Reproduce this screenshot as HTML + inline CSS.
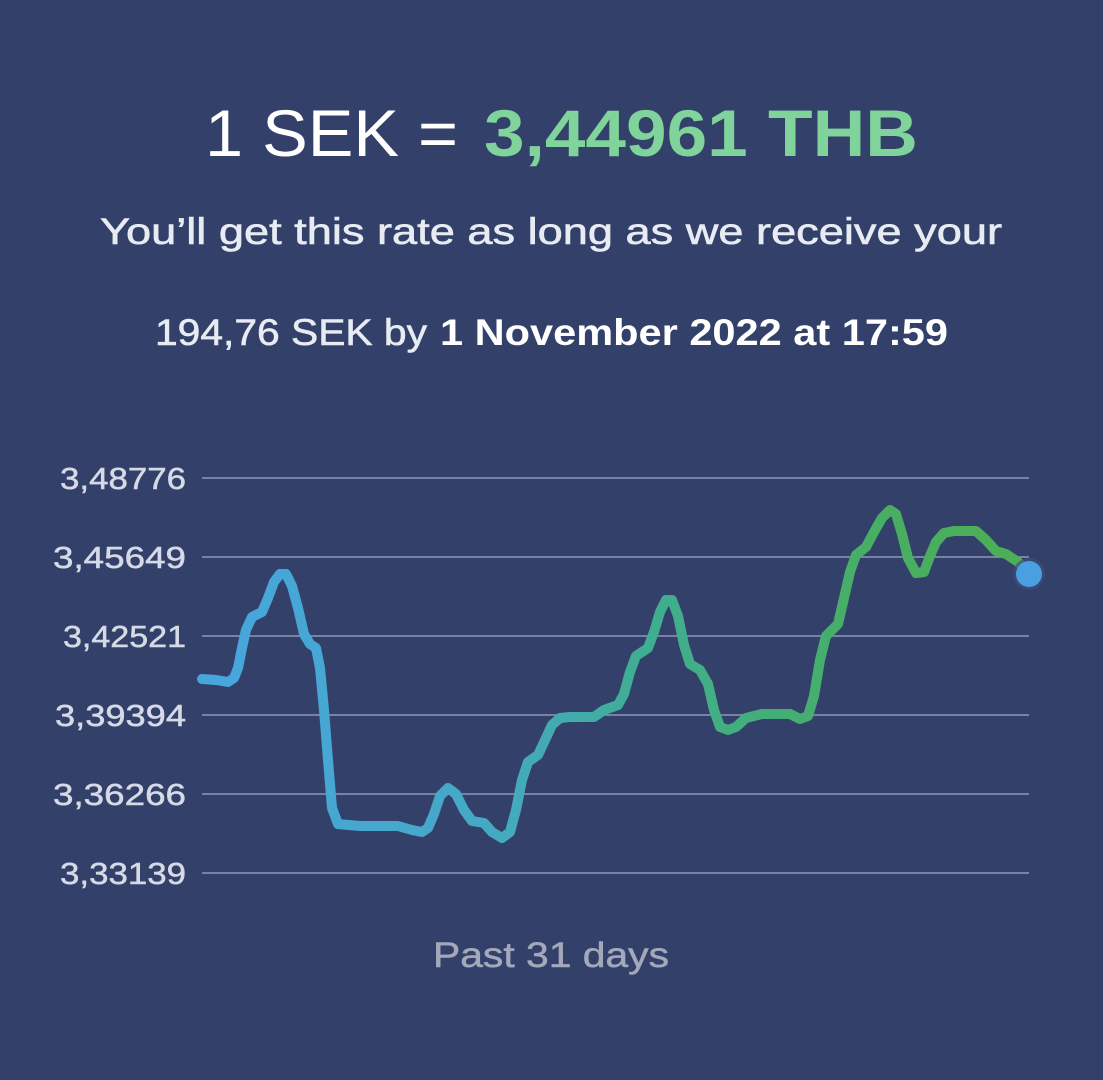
<!DOCTYPE html>
<html><head><meta charset="utf-8"><style>
html,body{margin:0;padding:0;background:#33416a;}
svg{display:block}
</style></head><body>
<svg width="1103" height="1080" viewBox="0 0 1103 1080" xmlns="http://www.w3.org/2000/svg">
<defs>
<linearGradient id="g" x1="202" y1="0" x2="1029" y2="0" gradientUnits="userSpaceOnUse">
<stop offset="0" stop-color="#47a6de"/>
<stop offset="0.35" stop-color="#45a9c4"/>
<stop offset="0.55" stop-color="#3fae8e"/>
<stop offset="0.8" stop-color="#48ae66"/>
<stop offset="1" stop-color="#4caf55"/>
</linearGradient>
</defs>
<rect width="1103" height="1080" fill="#33416a"/>
<g font-family="Liberation Sans, sans-serif">
<text x="205" y="156" font-size="66" fill="#ffffff" textLength="253" lengthAdjust="spacingAndGlyphs">1 SEK =</text>
<text x="484" y="156" font-size="66" font-weight="bold" fill="#7fd39b" textLength="434" lengthAdjust="spacingAndGlyphs">3,44961 THB</text>
<text x="100" y="244" font-size="37" fill="#e8ebf2" stroke="#e8ebf2" stroke-width="0.6" textLength="902" lengthAdjust="spacingAndGlyphs">You’ll get this rate as long as we receive your</text>
<text x="155" y="345" font-size="37" fill="#e8ebf2" stroke="#e8ebf2" stroke-width="0.6" textLength="272" lengthAdjust="spacingAndGlyphs">194,76 SEK by</text>
<text x="440" y="345" font-size="37" font-weight="bold" fill="#ffffff" textLength="508" lengthAdjust="spacingAndGlyphs">1 November 2022 at 17:59</text>
<g font-size="31" fill="#d6dae6" stroke="#d6dae6" stroke-width="0.5" text-anchor="end">
<text x="186" y="489" textLength="126" lengthAdjust="spacingAndGlyphs">3,48776</text>
<text x="186" y="568" textLength="133" lengthAdjust="spacingAndGlyphs">3,45649</text>
<text x="186" y="647" textLength="123" lengthAdjust="spacingAndGlyphs">3,42521</text>
<text x="186" y="726" textLength="131" lengthAdjust="spacingAndGlyphs">3,39394</text>
<text x="186" y="805" textLength="133" lengthAdjust="spacingAndGlyphs">3,36266</text>
<text x="186" y="884" textLength="126" lengthAdjust="spacingAndGlyphs">3,33139</text>
</g>
<text x="551" y="967" font-size="35" fill="#a3a8ba" stroke="#a3a8ba" stroke-width="0.5" text-anchor="middle" textLength="236" lengthAdjust="spacingAndGlyphs">Past 31 days</text>
</g>
<g stroke="#8e98b8" stroke-width="1.5">
<line x1="202" y1="478" x2="1029" y2="478"/>
<line x1="202" y1="557" x2="1029" y2="557"/>
<line x1="202" y1="636" x2="1029" y2="636"/>
<line x1="202" y1="715" x2="1029" y2="715"/>
<line x1="202" y1="794" x2="1029" y2="794"/>
<line x1="202" y1="873" x2="1029" y2="873"/>
</g>
<polyline fill="none" stroke="url(#g)" stroke-width="10" stroke-linecap="round" stroke-linejoin="round"
points="202,679 216,680 228,682 234,678 238,668 242,648 246,630 252,617 262,612 268,598 274,582 280,574 286,574 292,586 298,608 304,634 310,644 316,648 320,668 324,710 328,760 332,808 338,824 360,826 398,826 412,830 422,832 428,828 434,814 440,796 448,788 456,794 464,810 472,821 484,823 492,832 502,838 510,832 516,810 522,780 528,762 538,755 546,738 552,725 560,718 570,717 594,717 604,710 618,705 624,694 630,672 636,656 648,648 654,632 660,612 666,600 672,600 678,616 684,645 690,664 700,670 708,684 714,710 720,727 728,730 736,727 746,718 762,714 790,714 800,719 808,716 814,696 820,660 826,636 838,624 844,598 850,572 856,555 866,547 874,532 882,518 890,510 896,514 902,534 908,558 916,573 924,572 930,556 936,542 944,533 954,531 976,531 986,540 996,551 1006,554 1018,562 1029,574"/>
<circle cx="1029" cy="574" r="16" fill="#3c4e7c" opacity="0.7"/>
<circle cx="1029" cy="574" r="13" fill="#4a9fe0"/>
</svg>
</body></html>
